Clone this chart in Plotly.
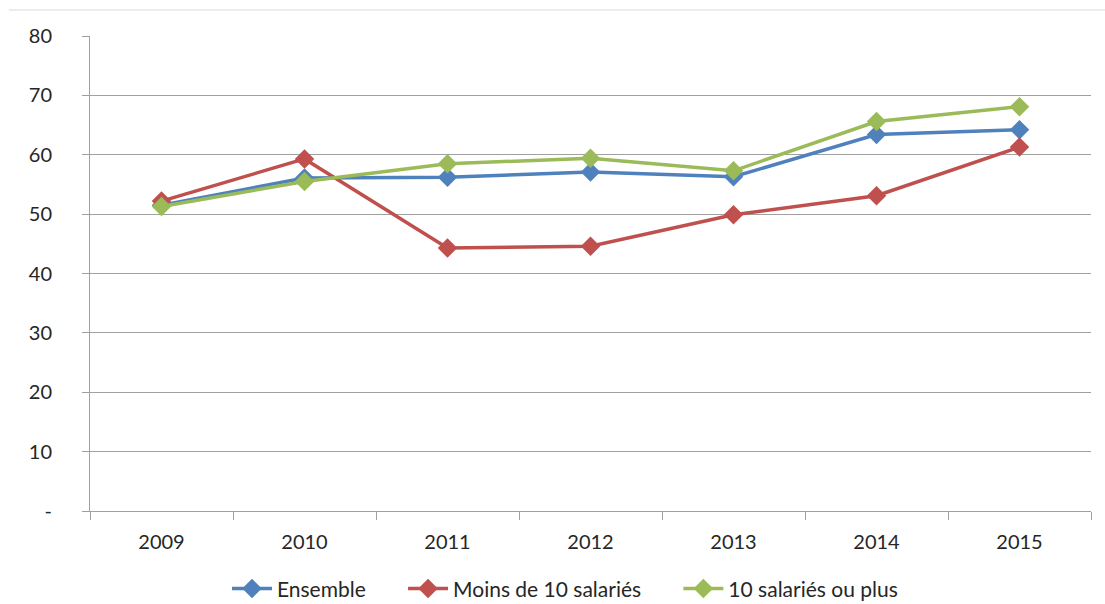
import plotly.graph_objects as go

years = ["2009", "2010", "2011", "2012", "2013", "2014", "2015"]
ensemble = [51.5, 56.1, 56.2, 57.1, 56.3, 63.4, 64.2]
moins_10 = [52.2, 59.3, 44.3, 44.6, 49.9, 53.1, 61.3]
dix_plus = [51.3, 55.5, 58.5, 59.4, 57.3, 65.6, 68.1]

series_names = ["Ensemble", "Moins de 10 salariés", "10 salariés ou plus"]
series_values = [ensemble, moins_10, dix_plus]
series_colors = ["#4F81BD", "#C0504D", "#9BBB59"]

font_family = "Lato, 'Open Sans', sans-serif"
pad = "\u00a0" * 6  # extra room between legend entries

fig = go.Figure()
for i, (name, vals, color) in enumerate(zip(series_names, series_values, series_colors)):
    label = name + (pad if i < len(series_names) - 1 else "")
    fig.add_trace(go.Scatter(
        x=years, y=vals, name=label, mode="lines+markers",
        line=dict(color=color, width=3.5),
        marker=dict(symbol="diamond", size=15, color=color),
    ))

fig.update_layout(
    width=1105, height=604,
    margin=dict(l=90, r=14, t=36, b=93, autoexpand=False),
    paper_bgcolor="white", plot_bgcolor="white",
    font=dict(family=font_family, size=20, color="#262626"),
    showlegend=True,
    legend=dict(orientation="h", x=0.4745, xanchor="center",
                yref="container", y=0.025, yanchor="middle",
                font=dict(size=21), itemwidth=40, tracegroupgap=0),
    xaxis=dict(
        type="category", range=[-0.5, 6.5], automargin=False,
        tickson="boundaries", ticks="outside", ticklen=8, tickcolor="#A0A0A0",
        showline=True, linecolor="#A0A0A0", linewidth=1,
        showgrid=False, zeroline=False,
        ticklabelstandoff=13,
    ),
    yaxis=dict(
        range=[0, 80], tickvals=[0, 10, 20, 30, 40, 50, 60, 70, 80],
        ticktext=["-", "10", "20", "30", "40", "50", "60", "70", "80"],
        ticks="outside", ticklen=7, tickcolor="#A0A0A0", automargin=False,
        showline=True, linecolor="#A0A0A0", linewidth=1,
        showgrid=True, gridcolor="#A0A0A0", gridwidth=1,
        zeroline=False, ticklabelstandoff=26,
    ),
)

# thin frame line along the top of the chart
fig.add_shape(type="line", xref="paper", yref="paper",
              x0=-0.081, x1=1.02, y0=1.0547, y1=1.0547,
              line=dict(color="#D9D9D9", width=1))

fig.write_html("out.html")
